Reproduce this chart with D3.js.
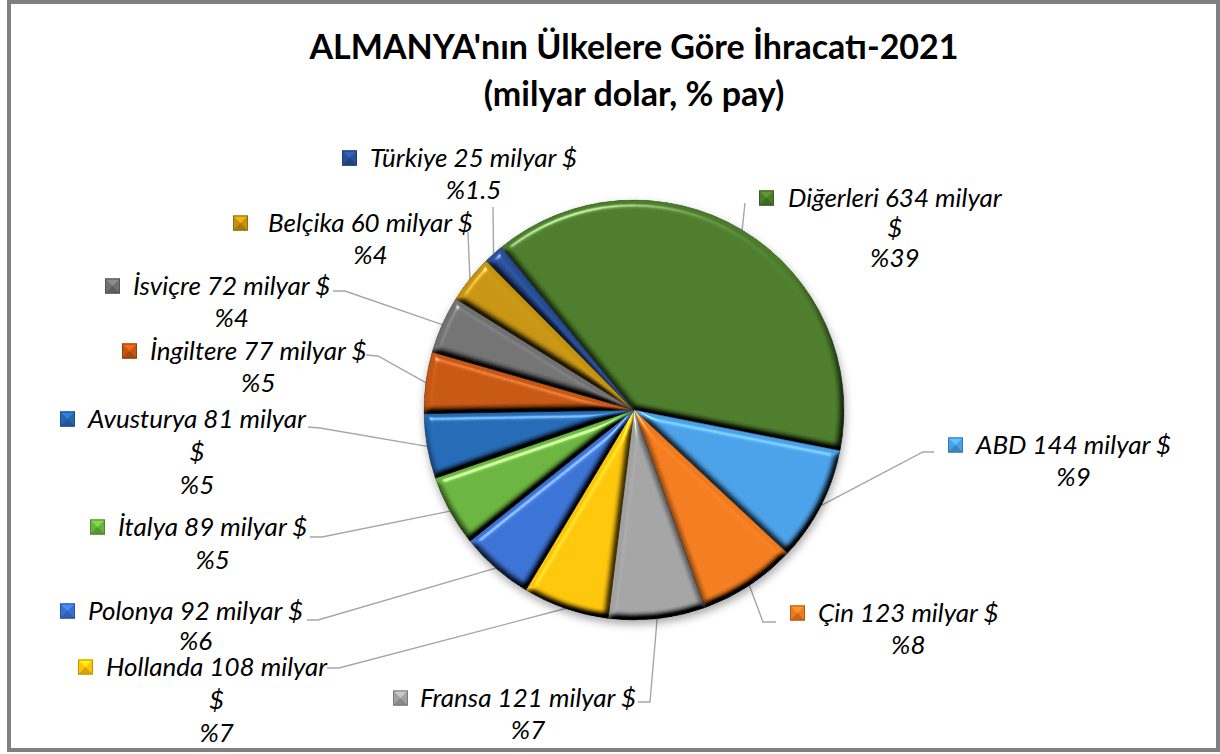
<!DOCTYPE html>
<html>
<head>
<meta charset="utf-8">
<script src="https://cdn.jsdelivr.net/npm/d3@7"></script>
<style>
  html, body { margin: 0; padding: 0; background: #fff; }
  svg { display: block; }
  text { font-family: Lato, "Open Sans", sans-serif; fill: #000; }
</style>
</head>
<body>
<div id="chart"></div>
<script>
// data, in the order the slices go round (clockwise)
const countries = ['Diğerleri', 'ABD', 'Çin', 'Fransa', 'Hollanda', 'Polonya', 'İtalya', 'Avusturya', 'İngiltere', 'İsviçre', 'Belçika', 'Türkiye']
const exportsBn = [634, 144, 123, 121, 108, 92, 89, 81, 77, 72, 60, 25]
const shares = ['39', '9', '8', '7', '7', '6', '5', '5', '5', '4', '4', '1.5']
const colors = ['#4b7b2a', '#4a9fe6', '#f07a1e', '#a2a2a2', '#ffc40a', '#3a70d2', '#69b23e', '#2468b2', '#c45612', '#707070', '#c59210', '#284e98']

const titleLines = ["ALMANYA'nın Ülkelere Göre İhracatı-2021", '(milyar dolar, % pay)']

// where each label sits (marker left, first line middle) and the bend of its leader line
const labelLayout = {
  'Diğerleri': { x: 759, y: 198, wrap: true, dx: 29, step: 30, leader: [[745, 203]] },
  'ABD':       { x: 948, y: 445, dx: 28, leader: [[923, 452], [934, 452]] },
  'Çin':       { x: 790, y: 613, dx: 28, leader: [[763, 622], [776, 622]] },
  'Fransa':    { x: 393, y: 698, dx: 27, leader: [[650, 702], [638, 702]] },
  'Hollanda':  { x: 78,  y: 667, wrap: true, dx: 28, step: 33, leader: [[339, 668], [327, 668]] },
  'Polonya':   { x: 60,  y: 611, dx: 28, step: 30, leader: [[318, 620], [307, 620]] },
  'İtalya':    { x: 90,  y: 527, dx: 28, step: 33, leader: [[322, 537], [310, 537]] },
  'Avusturya': { x: 60,  y: 419, wrap: true, dx: 28, step: 33, leader: [[320, 428], [308, 427]] },
  'İngiltere': { x: 122, y: 351, dx: 28, leader: [[378, 356], [366, 355]] },
  'İsviçre':   { x: 105, y: 286, dx: 28, leader: [[345, 291], [333, 291]] },
  'Belçika':   { x: 233, y: 223, dx: 35, leader: [[468, 232]] },
  'Türkiye':   { x: 342, y: 158, dx: 28, leader: [[493, 207]] }
}

const width = 1220
const height = 754
const cx = 634
const cy = 410
const radius = 210
const lineStep = 32
const labelSize = 26

const svg = d3.select('#chart')
  .append('svg')
  .attr('width', width)
  .attr('height', height)

const defs = svg.append('defs')

// soft bevel on each slice
const bevel = defs.append('filter')
  .attr('id', 'bevel')
  .attr('color-interpolation-filters', 'sRGB')
  .attr('x', '-5%').attr('y', '-5%')
  .attr('width', '110%').attr('height', '110%')
bevel.append('feGaussianBlur')
  .attr('in', 'SourceAlpha')
  .attr('stdDeviation', 3.5)
  .attr('result', 'blur')
bevel.append('feDiffuseLighting')
  .attr('in', 'blur')
  .attr('surfaceScale', 6)
  .attr('diffuseConstant', 1.45)
  .attr('lighting-color', '#fff')
  .attr('result', 'diffuse')
  .append('feDistantLight')
  .attr('azimuth', 250)
  .attr('elevation', 44)
bevel.append('feComposite')
  .attr('in', 'SourceGraphic')
  .attr('in2', 'diffuse')
  .attr('operator', 'arithmetic')
  .attr('k1', 1).attr('k2', 0).attr('k3', 0).attr('k4', 0)
  .attr('result', 'shaded')
bevel.append('feSpecularLighting')
  .attr('in', 'blur')
  .attr('surfaceScale', 6)
  .attr('specularConstant', 0.7)
  .attr('specularExponent', 40)
  .attr('lighting-color', '#fff')
  .attr('result', 'spec')
  .append('feDistantLight')
  .attr('azimuth', 250)
  .attr('elevation', 44)
bevel.append('feComposite')
  .attr('in', 'spec')
  .attr('in2', 'SourceAlpha')
  .attr('operator', 'in')
  .attr('result', 'specIn')
bevel.append('feComposite')
  .attr('in', 'shaded')
  .attr('in2', 'specIn')
  .attr('operator', 'arithmetic')
  .attr('k1', 0).attr('k2', 1).attr('k3', 0.7).attr('k4', 0)
  .attr('result', 'lit')
bevel.append('feComposite')
  .attr('in', 'lit')
  .attr('in2', 'SourceAlpha')
  .attr('operator', 'in')

// shadow under the whole pie
const shadow = defs.append('filter')
  .attr('id', 'pieShadow')
  .attr('x', '-10%').attr('y', '-10%')
  .attr('width', '120%').attr('height', '125%')
shadow.append('feDropShadow')
  .attr('dx', 1)
  .attr('dy', 4)
  .attr('stdDeviation', 4)
  .attr('flood-color', '#000')
  .attr('flood-opacity', 0.35)

// frame
svg.append('rect')
  .attr('x', 9)
  .attr('y', 2)
  .attr('width', 1209)
  .attr('height', 748)
  .attr('fill', '#fff')
  .attr('stroke', '#808080')
  .attr('stroke-width', 4)

// title
titleLines.forEach((line, i) => {
  svg.append('text')
    .attr('x', cx)
    .attr('y', 59 + i * 47)
    .attr('text-anchor', 'middle')
    .attr('font-size', 34)
    .attr('font-weight', 'bold')
    .text(line)
})

const rows = countries.map((c, i) => ({ country: c, value: exportsBn[i], share: shares[i], color: colors[i] }))

// first slice starts a little left of 12 o'clock
const start = -39.2 * Math.PI / 180
const pie = d3.pie()
  .sort(null)
  .value(d => d.value)
  .startAngle(start)
  .endAngle(start + 2 * Math.PI)

const arcs = pie(rows)
const arc = d3.arc().innerRadius(0).outerRadius(radius)

// leader lines first so the pie covers their ends
const leaders = svg.append('g')
arcs.forEach(a => {
  const mid = (a.startAngle + a.endAngle) / 2
  const rim = [cx + radius * Math.sin(mid), cy - radius * Math.cos(mid)]
  const pts = [rim].concat(labelLayout[a.data.country].leader)
  leaders.append('path')
    .attr('d', d3.line()(pts))
    .attr('fill', 'none')
    .attr('stroke', '#a6a6a6')
    .attr('stroke-width', 1.4)
})

const pieGroup = svg.append('g')
  .attr('transform', `translate(${cx},${cy})`)
  .attr('filter', 'url(#pieShadow)')

pieGroup.selectAll('path')
  .data(arcs)
  .join('path')
  .attr('d', arc)
  .attr('fill', d => d.data.color)
  .attr('stroke', d => d3.color(d.data.color).darker(1.4))
  .attr('stroke-width', 0.8)
  .attr('filter', 'url(#bevel)')

// labels
const labels = svg.append('g')
arcs.forEach(a => {
  const d = a.data
  const pos = labelLayout[d.country]
  const step = pos.step || lineStep
  const g = labels.append('g')

  // small bevelled legend square
  const s = 15
  const mx = pos.x
  const my = pos.y - s / 2
  const base = d3.color(d.color)
  g.append('rect')
    .attr('x', mx).attr('y', my)
    .attr('width', s).attr('height', s)
    .attr('fill', base)
  g.append('path')
    .attr('d', `M${mx},${my}L${mx + s},${my}L${mx + s / 2},${my + s / 2}Z`)
    .attr('fill', base.brighter(0.6))
  g.append('path')
    .attr('d', `M${mx},${my + s}L${mx + s},${my + s}L${mx + s / 2},${my + s / 2}Z`)
    .attr('fill', base.darker(0.5))
  g.append('rect')
    .attr('x', mx + 0.5).attr('y', my + 0.5)
    .attr('width', s - 1).attr('height', s - 1)
    .attr('fill', 'none')
    .attr('stroke', base.darker(0.8))
    .attr('stroke-width', 1)

  const first = pos.wrap ? `${d.country} ${d.value} milyar` : `${d.country} ${d.value} milyar $`
  const rest = pos.wrap ? ['$', `%${d.share}`] : [`%${d.share}`]

  const t = g.append('text')
    .attr('x', pos.x + pos.dx)
    .attr('y', pos.y + 9)
    .attr('font-size', labelSize)
    .attr('font-style', 'italic')
    .text(first)
  const w = t.node().getComputedTextLength()
  const centre = pos.x + pos.dx + w / 2

  rest.forEach((line, i) => {
    g.append('text')
      .attr('x', centre)
      .attr('y', pos.y + 9 + step * (i + 1))
      .attr('text-anchor', 'middle')
      .attr('font-size', labelSize)
      .attr('font-style', 'italic')
      .text(line)
  })
})
</script>
</body>
</html>
